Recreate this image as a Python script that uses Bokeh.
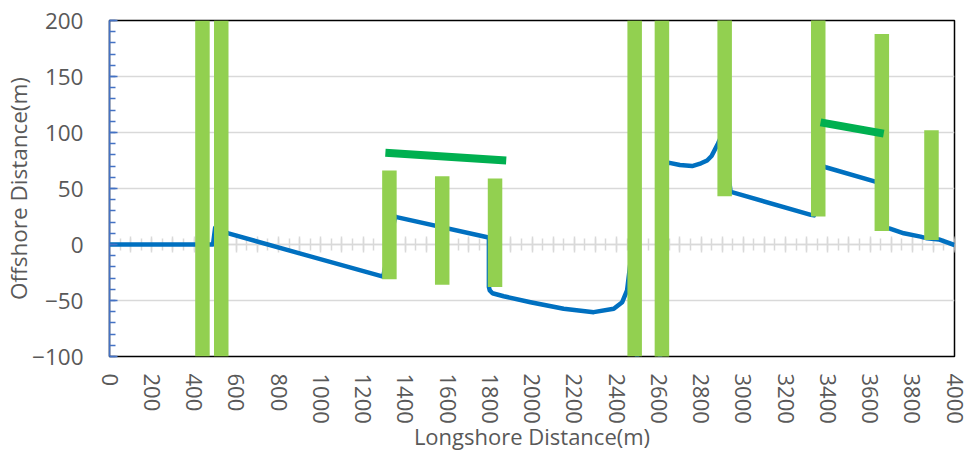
import numpy as np
from bokeh.plotting import figure
from bokeh.models import LinearAxis, SingleIntervalTicker, Range1d, Grid, ColumnDataSource
from bokeh.embed import file_html
from bokeh.resources import INLINE

# Shoreline position (longshore m, offshore m)
shore_x = [0, 250, 490, 500, 563, 900, 1291, 1296, 1352, 1359, 1789, 1796, 1796,
           1800, 1813, 1866, 1993, 2150, 2292, 2387, 2427, 2450, 2470, 2500,
           2605, 2625, 2651, 2700, 2758, 2800, 2829, 2850, 2869, 2880, 2905,
           2940, 2946, 3320, 3335, 3375, 3390, 3621, 3640, 3680, 3691, 3760,
           3839, 3870, 3926, 4000]
shore_y = [0, 0, 0, 15, 10, -8, -28.5, -28.5, 25, 24.4, 6.5, 6, -38,
           -41, -43.5, -46.2, -51.5, -57.4, -60.4, -57.4, -51.5, -41, -10, -108,
           -108, 72, 72.9, 71, 70, 72.5, 75, 79, 86, 90, 100,
           47, 46.7, 26.5, 26, 70, 69, 56.3, 56, 14.5, 14.3, 10,
           7, 5.5, 4.5, -0.5]

# Groins: centre position, seaward and landward ends
groin_x = [440, 529, 1325, 1575, 1825, 2486, 2615, 2912, 3355, 3656, 3891]
groin_top = [200, 200, 66, 61, 59, 200, 200, 202, 202, 188, 102]
groin_bottom = [-100, -100, -31, -36, -38, -100, -101, 43, 25, 12, 4]

# Detached breakwaters
bw_x0 = [1306, 3366]
bw_x1 = [1878, 3665]
bw_y0 = [82, 109]
bw_y1 = [75, 99]

FONT = "Open Sans"
TEXT = "#595959"
GRID = "#D9D9D9"

p = figure(width=968, height=455, x_range=Range1d(0, 4000), y_range=Range1d(-100, 200),
           output_backend="svg", toolbar_location=None,
           x_axis_location=None, y_axis_location=None,
           min_border_left=109, min_border_right=14, min_border_top=20, min_border_bottom=99)
p.outline_line_color = "black"
p.outline_line_width = 1.5
p.background_fill_color = "white"
p.border_fill_color = "white"
p.xgrid.grid_line_color = None
p.ygrid.grid_line_color = None

p.add_layout(Grid(dimension=1, ticker=SingleIntervalTicker(interval=50),
                  grid_line_color=GRID, grid_line_width=1.5))

# Offshore axis
yaxis = LinearAxis(ticker=SingleIntervalTicker(interval=50, num_minor_ticks=5),
                   axis_line_color="#4472C4", axis_line_width=1.5,
                   major_tick_in=8, major_tick_out=0, minor_tick_in=6, minor_tick_out=0,
                   major_tick_line_color="#4472C4", minor_tick_line_color="#4472C4",
                   major_tick_line_width=1.5, minor_tick_line_width=1.5,
                   major_label_text_font=FONT, major_label_text_font_size="22.5px",
                   major_label_text_color=TEXT, major_label_standoff=26,
                   axis_label="Offshore Distance(m)", axis_label_text_font=FONT,
                   axis_label_text_font_size="22.5px", axis_label_text_font_style="normal",
                   axis_label_text_color=TEXT, axis_label_standoff=-5)
p.add_layout(yaxis, "left")

# Longshore labels along the bottom
xaxis = LinearAxis(ticker=SingleIntervalTicker(interval=200),
                   axis_line_color=None, major_tick_line_color=None, minor_tick_line_color=None,
                   major_tick_in=0, major_tick_out=0, minor_tick_in=0, minor_tick_out=0,
                   major_label_orientation="vertical",
                   major_label_text_font=FONT, major_label_text_font_size="22px",
                   major_label_text_color=TEXT, major_label_standoff=17,
                   axis_label="Longshore Distance(m)", axis_label_text_font=FONT,
                   axis_label_text_font_size="22px", axis_label_text_font_style="normal",
                   axis_label_text_color=TEXT, axis_label_standoff=-6)
p.add_layout(xaxis, "below")

# Baseline with crossing ticks at zero offshore
zaxis = LinearAxis(fixed_location=0, ticker=SingleIntervalTicker(interval=100, num_minor_ticks=2),
                   axis_line_color=GRID, axis_line_width=1.5,
                   major_tick_in=8, major_tick_out=8, minor_tick_in=6, minor_tick_out=6,
                   major_tick_line_color=GRID, minor_tick_line_color=GRID,
                   major_tick_line_width=1.5, minor_tick_line_width=1.5,
                   major_label_text_font_size="0px", major_label_text_color=None,
                   major_label_standoff=0, level="underlay")
p.add_layout(zaxis, "above")

p.line(shore_x, shore_y, line_color="#0070C0", line_width=4.5, line_join="round")

groins = ColumnDataSource(dict(x=groin_x, top=groin_top, bottom=groin_bottom))
p.segment(x0="x", y0="bottom", x1="x", y1="top", source=groins,
          line_color="#92D050", line_width=14.5, line_cap="butt")

bws = ColumnDataSource(dict(x0=bw_x0, x1=bw_x1, y0=bw_y0, y1=bw_y1))
p.segment(x0="x0", y0="y0", x1="x1", y1="y1", source=bws,
          line_color="#00B050", line_width=8, line_cap="butt")

open("out.html", "w").write(file_html(p, INLINE))
